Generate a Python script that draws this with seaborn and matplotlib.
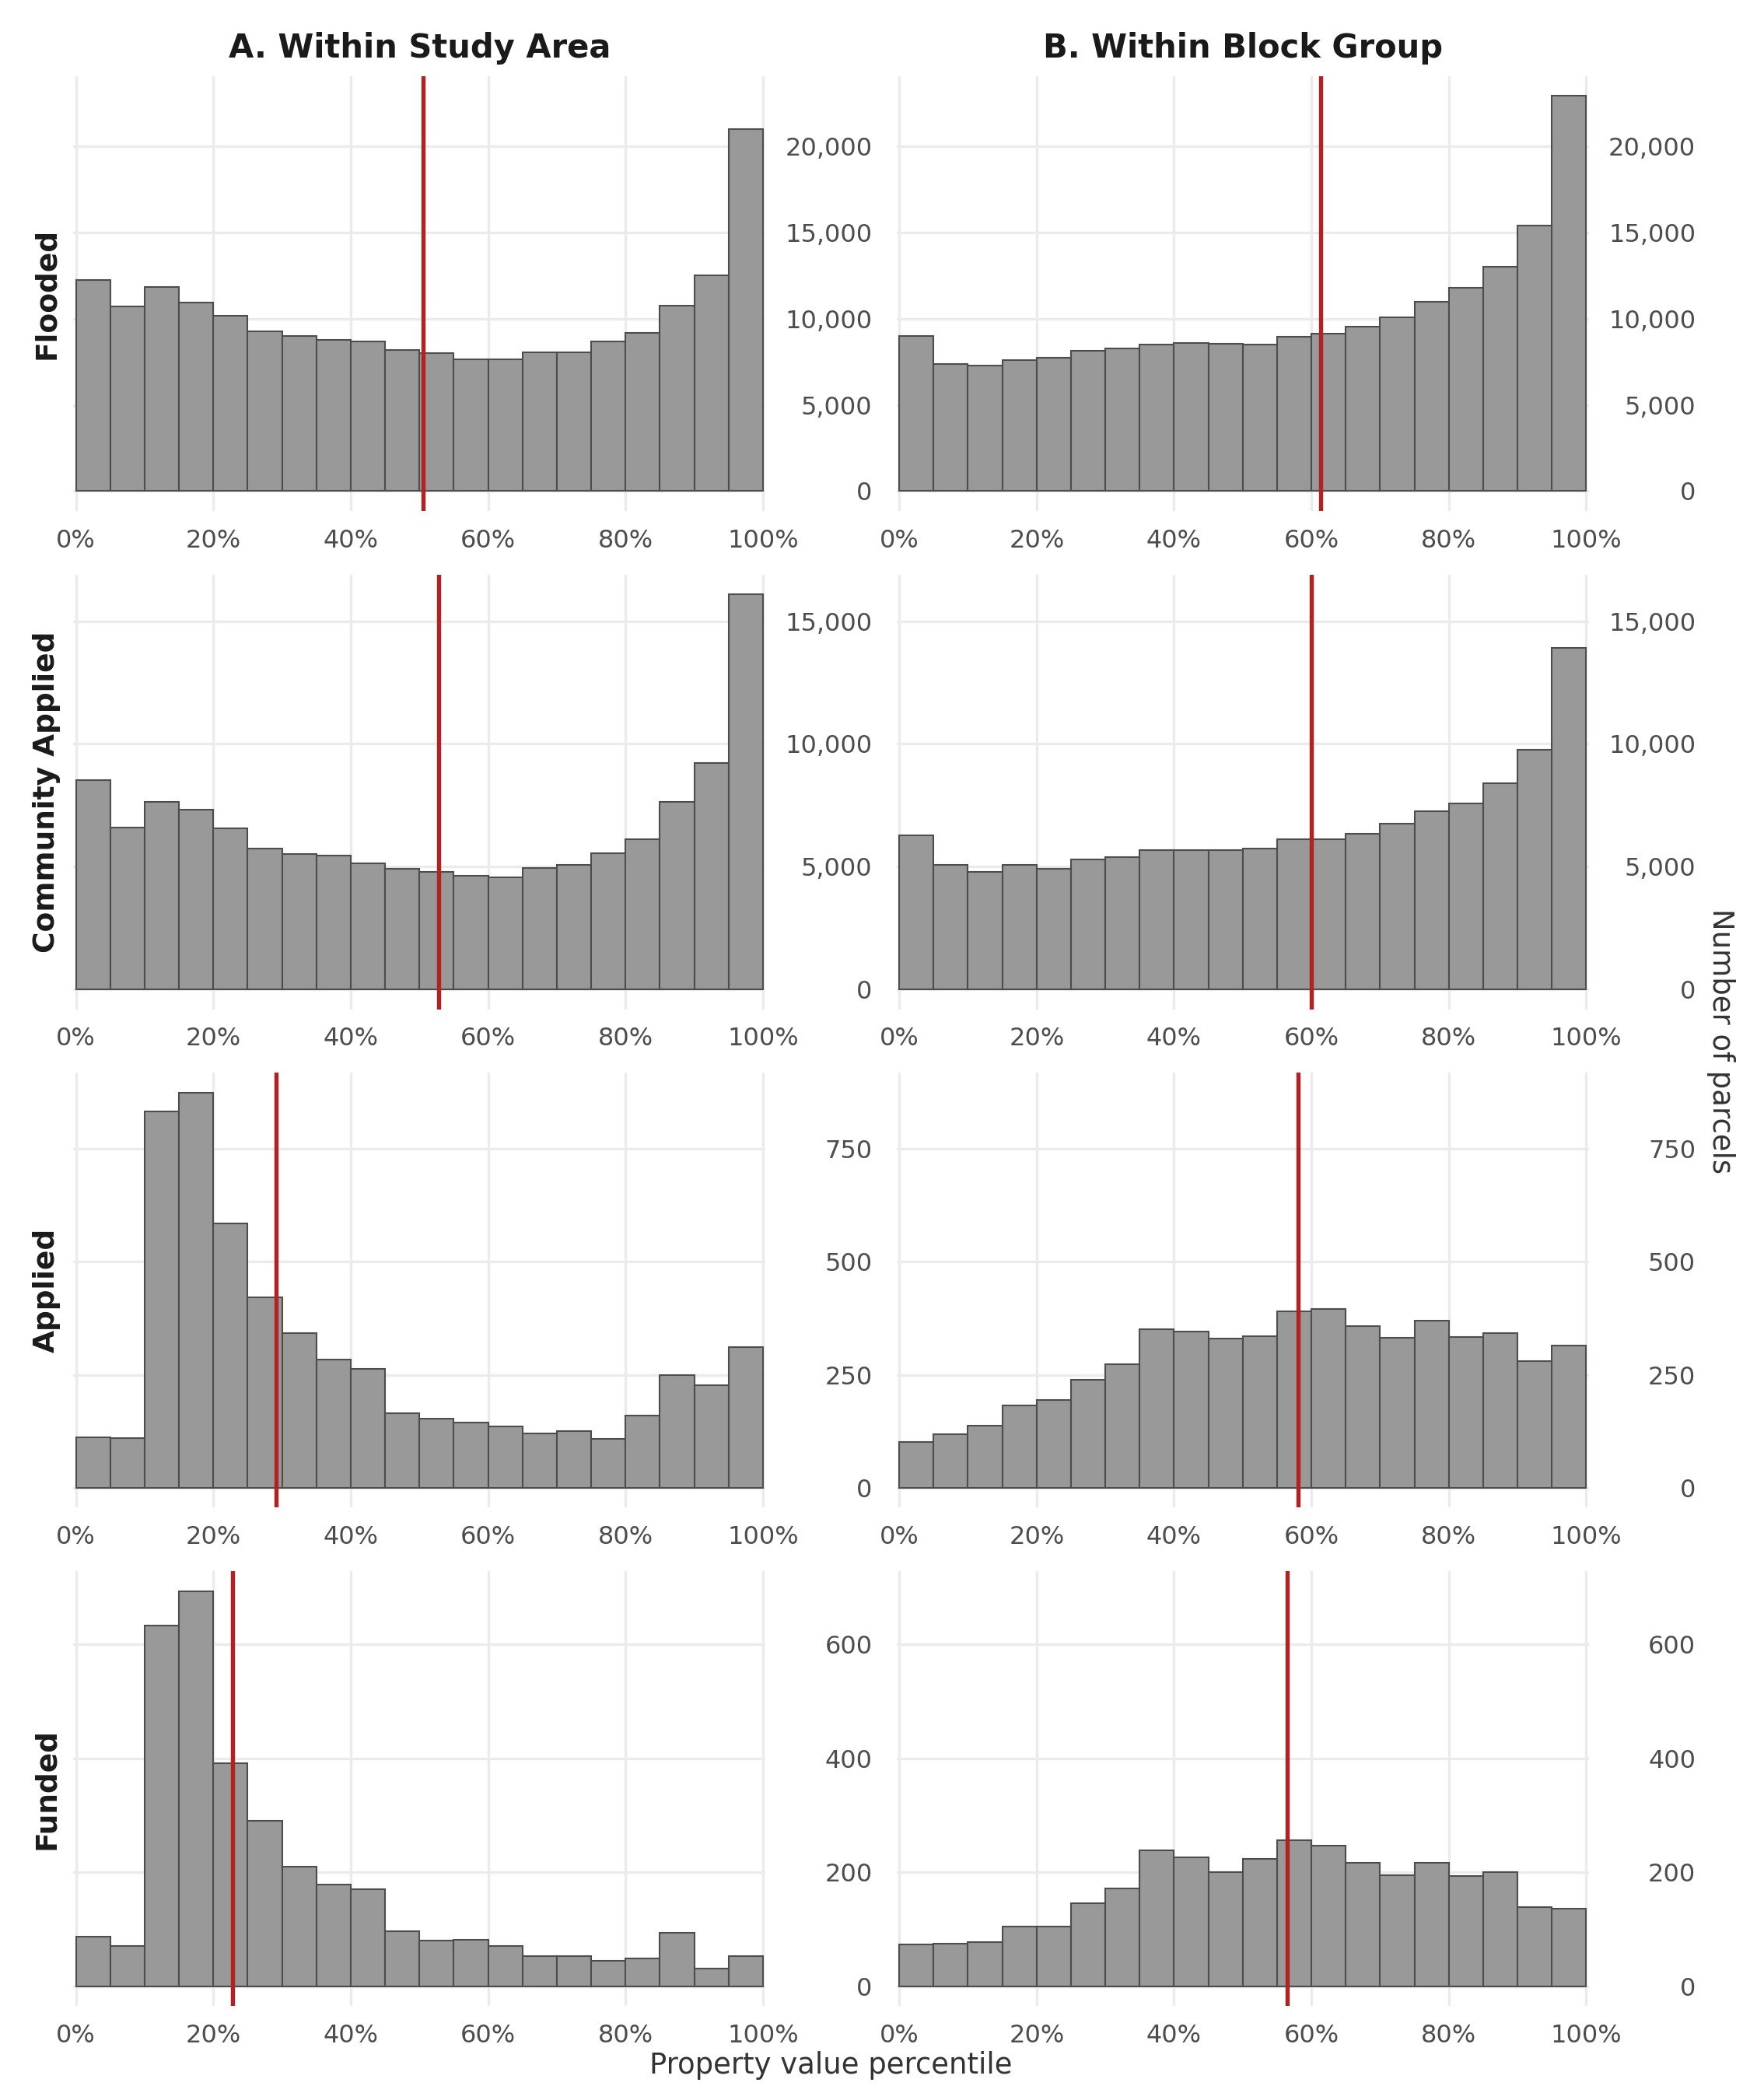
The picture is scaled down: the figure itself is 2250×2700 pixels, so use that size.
import numpy as np
import pandas as pd
import matplotlib
matplotlib.use("Agg")
import matplotlib.pyplot as plt
import seaborn as sns
from matplotlib.ticker import FuncFormatter

# ---------------- data ----------------
bin_edges = list(range(0, 105, 5))          # percentile bins, 5% wide
row_names = ["Flooded", "Community Applied", "Applied", "Funded"]
col_titles = ["A. Within Study Area", "B. Within Block Group"]

flooded_area = [12250, 10720, 11860, 10920, 10170, 9250, 8980, 8790, 8700, 8200,
                8020, 7640, 7660, 8060, 8060, 8660, 9170, 10740, 12530, 20990]
flooded_bg = [8980, 7370, 7270, 7610, 7720, 8160, 8260, 8480, 8610, 8540,
              8500, 8930, 9120, 9530, 10090, 11000, 11790, 13030, 15410, 22920]
comm_area = [8510, 6600, 7640, 7310, 6550, 5730, 5510, 5460, 5130, 4910,
             4800, 4640, 4580, 4960, 5070, 5560, 6110, 7640, 9220, 16090]
comm_bg = [6270, 5070, 4800, 5070, 4910, 5290, 5400, 5670, 5670, 5670,
           5730, 6110, 6110, 6330, 6760, 7260, 7580, 8400, 9770, 13910]
applied_area = [112, 110, 832, 874, 585, 421, 343, 284, 263, 165,
                153, 144, 135, 121, 126, 108, 159, 249, 227, 311]
applied_bg = [102, 119, 137, 182, 195, 239, 274, 351, 345, 330,
              336, 391, 396, 358, 331, 370, 333, 343, 280, 314]
funded_area = [87, 70, 633, 694, 392, 291, 210, 179, 170, 96,
               80, 82, 70, 53, 53, 45, 49, 94, 31, 53]
funded_bg = [73, 75, 78, 104, 104, 146, 172, 238, 226, 200,
             224, 256, 247, 216, 195, 216, 193, 200, 139, 136]

median_area = [50.5, 52.8, 29.1, 22.8]
median_bg = [61.3, 60.0, 58.1, 56.5]

y_ticks = [[0, 5000, 10000, 15000, 20000],
           [0, 5000, 10000, 15000],
           [0, 250, 500, 750],
           [0, 200, 400, 600]]
x_ticks = [0, 20, 40, 60, 80, 100]

counts = [[flooded_area, flooded_bg],
          [comm_area, comm_bg],
          [applied_area, applied_bg],
          [funded_area, funded_bg]]
medians = [[median_area[i], median_bg[i]] for i in range(4)]

# ---------------- figure ----------------
sns.set_theme(style="white")
plt.rcParams["font.family"] = ["DejaVu Sans"]

W, H = 2250, 2700
fig, axes = plt.subplots(4, 2, figsize=(7.5, 9), dpi=300)
fig.subplots_adjust(left=94 / W, right=2043 / W, top=1 - 98 / H, bottom=1 - 2579 / H,
                    wspace=168 / 890, hspace=82 / 559)

centers = [(bin_edges[i] + bin_edges[i + 1]) / 2 for i in range(len(bin_edges) - 1)]
grid_col = "#EBEBEB"
tick_col = "#4D4D4D"

for r in range(4):
    rowmax = max(max(counts[r][0]), max(counts[r][1]))
    for c in range(2):
        ax = axes[r, c]
        df = pd.DataFrame({"pct": centers, "n": counts[r][c]})
        sns.histplot(data=df, x="pct", weights="n", bins=bin_edges, ax=ax,
                     color="#999999", edgecolor="#4D4D4D", linewidth=0.5, alpha=1)
        ax.axvline(medians[r][c], color="#B22222", lw=1.3, zorder=5)
        ax.set_xlim(-0.4, 100.4)
        ax.set_ylim(-0.05 * rowmax, 1.05 * rowmax)
        ax.set_xticks(x_ticks)
        ax.set_xticklabels([f"{t}%" for t in x_ticks])
        ax.set_yticks(y_ticks[r])
        ax.yaxis.set_major_formatter(FuncFormatter(lambda v, p: f"{int(v):,}"))
        ax.yaxis.tick_right()
        ax.tick_params(axis="both", length=0, labelsize=7.7, labelcolor=tick_col)
        ax.tick_params(axis="x", pad=5.5)
        ax.tick_params(axis="y", pad=32.9)
        for lab in ax.get_yticklabels():
            lab.set_horizontalalignment("right")
        ax.grid(True, color=grid_col, lw=0.8)
        ax.set_axisbelow(True)
        for s in ax.spines.values():
            s.set_visible(False)
        ax.set_xlabel("")
        ax.set_ylabel("")

# column titles
for c, t in enumerate(col_titles):
    pos = axes[0, c].get_position()
    fig.text((pos.x0 + pos.x1) / 2, 1 - 62 / H, t, ha="center", va="center",
             fontsize=10, fontweight="bold", color="#1A1A1A")

# row labels
for r, name in enumerate(row_names):
    pos = axes[r, 0].get_position()
    fig.text(60 / W, (pos.y0 + pos.y1) / 2, name, ha="center", va="center",
             rotation=90, fontsize=9, fontweight="bold", color="#1A1A1A")

# axis titles
fig.text((94 + 2043) / 2 / W, 1 - 2656 / H, "Property value percentile",
         ha="center", va="center", fontsize=8.9, color="#333333")
fig.text(2212 / W, 1 - 1339 / H, "Number of parcels", ha="center", va="center",
         rotation=270, fontsize=8.9, color="#333333")

fig.savefig("out.png", dpi=300, facecolor="white")
